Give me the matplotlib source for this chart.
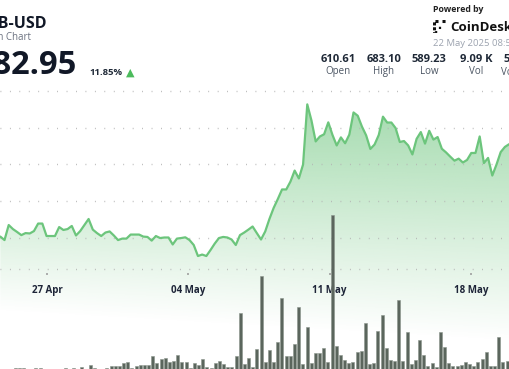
import numpy as np
import pandas as pd
import matplotlib
matplotlib.use('Agg')
import matplotlib.pyplot as plt
import matplotlib.dates as mdates

plt.rcParams['font.family'] = ['Open Sans', 'DejaVu Sans']

# ---------------- data ----------------
start_time = '2025-04-24 16:30'
step_hours = 5

price = [600.6, 598.7, 606.9, 604.7, 603.1, 601.4, 602.5, 602.3, 603.6, 607.7,
         607.7, 600.9, 600.9, 600.9, 605.8, 604.2, 604.7, 606.4, 601.2, 603.6,
         606.9, 610.2, 604.4, 602.5, 600.9, 602.8, 603.4, 601.2, 598.7, 599.5,
         599.5, 601.7, 601.7, 601.7, 600.6, 600.4, 598.4, 600.9, 599.8, 600.1,
         600.1, 596.3, 599.5, 599.8, 600.2, 598.7, 596.0, 590.0, 590.8, 590.0,
         593.3, 596.8, 599.8, 600.4, 600.1, 599.0, 596.0, 601.4, 602.8, 604.4,
         606.1, 602.5, 599.0, 603.4, 610.2, 616.2, 621.1, 626.3, 626.3, 630.6,
         636.6, 632.3, 639.9, 672.7, 663.9, 652.5, 655.2, 656.4, 662.9, 656.0,
         650.3, 654.7, 651.5, 656.2, 668.3, 666.5, 660.6, 655.8, 648.4, 650.8,
         656.0, 666.0, 662.8, 662.8, 659.8, 652.2, 652.7, 650.3, 645.4, 653.9,
         657.6, 651.3, 658.3, 653.5, 654.9, 648.5, 646.5, 644.2, 642.0, 643.1,
         641.0, 642.4, 646.2, 646.2, 655.2, 640.7, 643.5, 633.9, 639.9, 646.7,
         649.5, 651.0]

volume = [6, 6, 5, 14, 12, 12, 5, 5, 10, 10,
          5, 5, 5, 5, 5, 10, 5, 18, 6, 24,
          6, 48, 18, 6, 6, 14, 36, 42, 34, 78,
          90, 12, 42, 50, 54, 54, 156, 76, 120, 138,
          84, 96, 168, 90, 88, 18, 72, 54, 120, 24,
          12, 76, 96, 60, 24, 24, 156, 672, 60, 138,
          30, 240, 1116, 80, 228, 80, 324, 856, 152, 152,
          296, 740, 64, 504, 72, 196, 188, 248, 88, 1852,
          276, 168, 108, 68, 80, 208, 220, 556, 64, 72,
          456, 652, 256, 112, 96, 828, 100, 448, 60, 112,
          348, 164, 40, 68, 28, 448, 260, 68, 32, 32,
          48, 88, 56, 32, 88, 124, 208, 32, 32, 384,
          80, 100]

tick_dates = ['2025-04-27', '2025-05-04', '2025-05-11', '2025-05-18']
tick_labels = ['27 Apr', '04 May', '11 May', '18 May']
grid_values = [600, 620, 640, 660, 680]

symbol = 'BNB-USD'
subtitle = '1 Month Chart'
last_price = '682.95'
change_pct = '11.85%'
stat_values = ['610.61', '683.10', '589.23', '9.09 K', '5.97 M']
stat_names = ['Open', 'High', 'Low', 'Vol', 'Vol (USD)']
timestamp = '22 May 2025 08:58 UTC'

# ---------------- layout helpers ----------------
W, H = 510, 369
fig = plt.figure(figsize=(W / 100, H / 100), dpi=100)
fig.patch.set_facecolor('white')


def fx(x):
    return x / W


def fy(y):
    return 1 - y / H


dates = pd.date_range(start_time, periods=len(price), freq=f'{step_hours}h')
tnum = mdates.date2num(dates.to_pydatetime())
step = step_hours / 24.0

# price pane mapping: 680 at y=91px, 36.67 px per 20 units
PX_PER_UNIT = 36.67 / 20
TOP_PX, BOT_PX = 85, 340
y_top = 680 + (91 - TOP_PX) / PX_PER_UNIT
y_bot = 680 - (BOT_PX - 91) / PX_PER_UNIT

ax = fig.add_axes([0, fy(BOT_PX), 1, (BOT_PX - TOP_PX) / H])
ax.set_axis_off()
x0 = tnum[0] - 0.0713 * step
x1 = tnum[0] + 121.21 * step

# gradient fill under the line
ny, nx = 300, 200
ypx = np.linspace(TOP_PX, BOT_PX, ny)[:, None]
xpx = np.linspace(0, W, nx)[None, :]
yend = 312 + 30 * xpx / W
alpha = 0.56 * np.clip((yend - ypx) / (yend - 100), 0, 1)
rgba = np.zeros((ny, nx, 4))
rgba[..., 0] = 92 / 255
rgba[..., 1] = 190 / 255
rgba[..., 2] = 110 / 255
rgba[..., 3] = alpha
im = ax.imshow(rgba, extent=[x0, x1, y_bot, y_top], aspect='auto',
               origin='upper', zorder=1, interpolation='bilinear')
poly = ax.fill_between(tnum, price, y_bot, facecolor='none', edgecolor='none')
im.set_clip_path(poly.get_paths()[0], transform=ax.transData)

dot_style = (0, (0.6, 6.2))
for v in grid_values:
    ax.axhline(v, color='#b3b3b3', lw=1.0, ls=dot_style, zorder=2)
ax.axhline(680 - (269 - 91) / PX_PER_UNIT, color='#b3b3b3', lw=1.0,
           ls=dot_style, zorder=2)

ax.plot(tnum, price, color='#6cc57c', lw=1.6, zorder=3,
        solid_joinstyle='round', solid_capstyle='round')
ax.set_xlim(x0, x1)
ax.set_ylim(y_bot, y_top)

# date axis
ax_d = fig.add_axes([0, fy(272.5), 1, 0.0001])
ax_d.set_xlim(x0, x1)
for s in ax_d.spines.values():
    s.set_visible(False)
ax_d.patch.set_alpha(0)
ax_d.set_yticks([])
ax_d.set_xticks(mdates.date2num(pd.to_datetime(tick_dates).to_pydatetime()))
ax_d.set_xticklabels(tick_labels)
ax_d.tick_params(axis='x', length=1.5, width=1.2, color='#a0a0a0', pad=7.5,
                 labelsize=7, labelcolor='#1e2538')
for lbl in ax_d.get_xticklabels():
    lbl.set_fontweight('bold')

# volume pane
VOL_TOP_PX = 200
ax_v = fig.add_axes([0, 0, 1, (H - VOL_TOP_PX) / H])
ax_v.set_axis_off()
ax_v.patch.set_alpha(0)
xv0 = tnum[0] - 0.624 * step
xv1 = tnum[0] + 121.68 * step
ax_v.bar(tnum, volume, width=0.72 * step, color='#5b665d',
         edgecolor='#8a948b', linewidth=0.4, zorder=3)
ax_v.set_xlim(xv0, xv1)
ax_v.set_ylim(0, (H - VOL_TOP_PX) * 12)

# ---------------- header ----------------
dark = '#111827'
fig.text(fx(47), fy(28.3), symbol, ha='right', va='baseline', fontsize=11.5,
         fontweight='bold', color=dark)
fig.text(fx(30.7), fy(40), subtitle, ha='right', va='baseline', fontsize=7,
         color='#6b7280')
fig.text(fx(77.5), fy(74), last_price, ha='right', va='baseline', fontsize=23.5,
         fontweight='bold', color=dark)
fig.text(fx(89), fy(75.3), change_pct, ha='left', va='baseline', fontsize=6.8,
         fontweight='bold', color='#1f2937')
fig.text(fx(130), fy(72.5), '▲', ha='center', va='center', fontsize=8,
         color='#4cbb5c', family=['DejaVu Sans'])

fig.text(fx(433.3), fy(12), 'Powered by', ha='left', va='baseline', fontsize=6.3,
         fontweight='bold', color='#222222')
fig.text(fx(450), fy(31), 'CoinDesk', ha='left', va='baseline', fontsize=9.5,
         fontweight='bold', color='#111111')
# logo mark (dotted bracket)
logo_ax = fig.add_axes([fx(433), fy(33), fx(14), (33 - 20) / H])
logo_ax.set_axis_off()
logo_ax.set_xlim(0, 14)
logo_ax.set_ylim(0, 13)
logo_ax.plot([5, 1, 1, 5], [12, 12, 1, 1], color='#111111', lw=2.2,
             ls=(0, (1, 0.6)))
logo_ax.plot([7, 7], [4, 9], color='#111111', lw=1.6, ls=(0, (1, 1.4)))
logo_ax.plot([9, 13], [12, 12], color='#111111', lw=2.2, ls=(0, (1, 0.6)))

fig.text(fx(432.7), fy(46), timestamp, ha='left', va='baseline', fontsize=6.8,
         color='#9ca3af')

centers = [338.3, 384, 429.3, 476.3, 522]
for cx, val, name in zip(centers, stat_values, stat_names):
    fig.text(fx(cx), fy(62.3), val, ha='center', va='baseline', fontsize=8,
             fontweight='bold', color='#1f2937')
    fig.text(fx(cx), fy(74), name, ha='center', va='baseline', fontsize=7,
             color='#4b5563')

fig.savefig('out.png', dpi=100, facecolor='white')
